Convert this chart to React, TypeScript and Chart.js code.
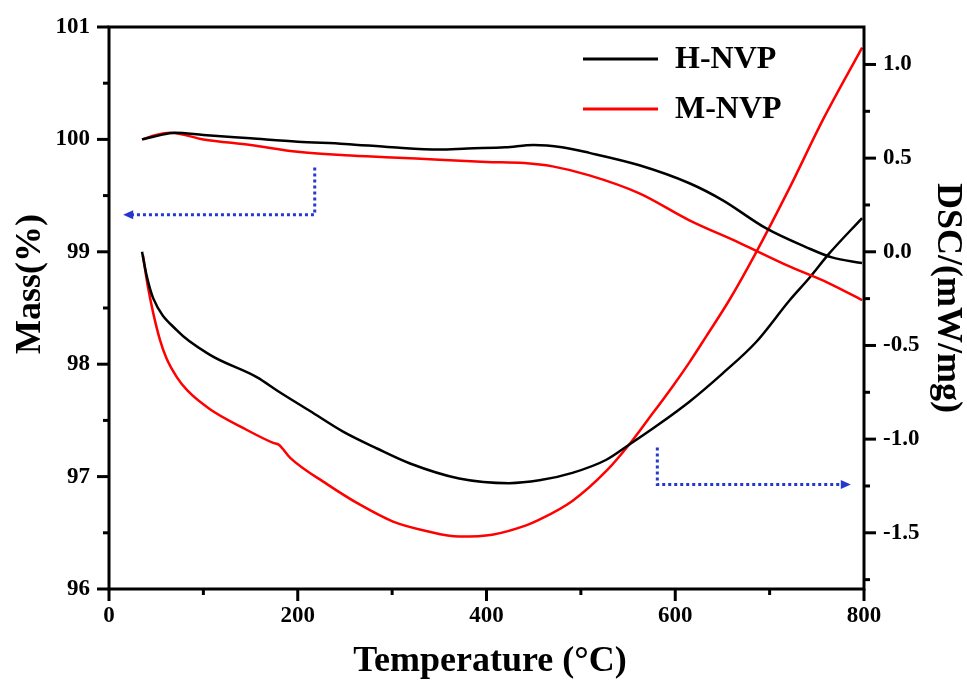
import React, { useEffect, useRef } from 'react';
import { Chart, registerables } from 'chart.js';
Chart.register(...registerables);

const FONT = "'Liberation Serif', 'Times New Roman', serif";

// Axis ticks
const X_TICKS = [0, 200, 400, 600, 800];
const X_MINOR = [100, 300, 500, 700];
const MASS_TICKS = [96, 97, 98, 99, 100, 101];
const MASS_MINOR = [96.5, 97.5, 98.5, 99.5, 100.5];
const DSC_TICKS = [-1.5, -1.0, -0.5, 0.0, 0.5, 1.0];
const DSC_MINOR = [-1.75, -1.25, -0.75, -0.25, 0.25, 0.75];

// Series labels
const SERIES_NAMES = ['H-NVP', 'M-NVP'];

// H-NVP mass (TG)
const H_TG_T = [35, 50, 70, 100, 150, 200, 250, 300, 350, 380, 420, 450, 480, 509, 562, 615, 650, 696, 739, 766, 798];
const H_TG = [100.0, 100.03, 100.06, 100.04, 100.01, 99.98, 99.96, 99.93, 99.91, 99.92, 99.93, 99.95, 99.93, 99.88, 99.77, 99.61, 99.46, 99.21, 99.04, 98.95, 98.9];

// M-NVP mass (TG)
const M_TG_T = [35, 50, 65, 100, 150, 200, 250, 300, 350, 400, 440, 470, 509, 562, 615, 668, 721, 763, 798];
const M_TG = [100.0, 100.04, 100.06, 100.0, 99.95, 99.89, 99.86, 99.84, 99.82, 99.8, 99.79, 99.76, 99.68, 99.52, 99.28, 99.08, 98.87, 98.72, 98.57];

// H-NVP DSC
const H_DSC_T = [35, 40, 47, 72, 107, 157, 178, 213, 248, 284, 319, 371, 424, 456, 491, 527, 551, 580, 615, 650, 686, 721, 742, 763, 798];
const H_DSC = [0.0, -0.13, -0.25, -0.42, -0.55, -0.67, -0.74, -0.85, -0.96, -1.05, -1.13, -1.21, -1.235, -1.22, -1.18, -1.11, -1.03, -0.93, -0.8, -0.65, -0.48, -0.26, -0.14, -0.01, 0.18];

// M-NVP DSC
const M_DSC_T = [36, 41, 47, 54, 61, 72, 83, 107, 142, 174, 180, 192, 231, 266, 301, 336, 371, 406, 442, 456, 491, 527, 551, 572, 597, 615, 633, 657, 686, 721, 756, 798];
const M_DSC = [-0.02, -0.18, -0.33, -0.47, -0.57, -0.67, -0.74, -0.84, -0.94, -1.02, -1.03, -1.1, -1.24, -1.35, -1.44, -1.49, -1.52, -1.51, -1.46, -1.43, -1.33, -1.17, -1.03, -0.89, -0.72, -0.59, -0.45, -0.26, 0.0, 0.34, 0.7, 1.09];

// Annotation arrows (data units)
const TG_ARROW = { t: [218, 218, 15], v: [99.75, 99.33, 99.33] };
const DSC_ARROW = { t: [581, 581, 786], v: [-1.044, -1.242, -1.242] };

const pts = (xs: number[], ys: number[]) => xs.map((x, i) => ({ x, y: ys[i] }));

const decor = {
  id: 'decor',
  afterDraw(chart: any) {
    const { ctx, chartArea, scales } = chart;
    const { left, right, top, bottom } = chartArea;
    const sx = scales.x, sy = scales.y, sy2 = scales.y2;
    ctx.save();
    ctx.strokeStyle = '#000';
    ctx.lineWidth = 3;
    ctx.lineCap = 'butt';
    ctx.strokeRect(left, top, right - left, bottom - top);
    const seg = (x1: number, y1: number, x2: number, y2: number) => {
      ctx.beginPath(); ctx.moveTo(x1, y1); ctx.lineTo(x2, y2); ctx.stroke();
    };
    X_TICKS.forEach(v => { const p = sx.getPixelForValue(v); seg(p, bottom, p, bottom + 12); });
    X_MINOR.forEach(v => { const p = sx.getPixelForValue(v); seg(p, bottom, p, bottom + 6); });
    MASS_TICKS.forEach(v => { const p = sy.getPixelForValue(v); seg(left - 12, p, left, p); });
    MASS_MINOR.forEach(v => { const p = sy.getPixelForValue(v); seg(left - 6, p, left, p); });
    DSC_TICKS.forEach(v => { const p = sy2.getPixelForValue(v); seg(right, p, right + 12, p); });
    DSC_MINOR.forEach(v => { const p = sy2.getPixelForValue(v); seg(right, p, right + 6, p); });

    // arrows
    const drawArrow = (a: { t: number[]; v: number[] }, ys: any) => {
      const P = a.t.map((t, i) => [sx.getPixelForValue(t), ys.getPixelForValue(a.v[i])]);
      ctx.strokeStyle = '#2438d0';
      ctx.fillStyle = '#2438d0';
      ctx.lineWidth = 3;
      ctx.setLineDash([3, 3]);
      const last = P[P.length - 1];
      const prev = P[P.length - 2];
      const dir = Math.sign(last[0] - prev[0]);
      ctx.beginPath();
      ctx.moveTo(P[0][0], P[0][1]);
      ctx.lineTo(P[1][0], P[1][1]);
      ctx.lineTo(last[0] - dir * 8, last[1]);
      ctx.stroke();
      ctx.setLineDash([]);
      ctx.beginPath();
      ctx.moveTo(last[0], last[1]);
      ctx.lineTo(last[0] - dir * 10, last[1] - 4.5);
      ctx.lineTo(last[0] - dir * 10, last[1] + 4.5);
      ctx.closePath();
      ctx.fill();
    };
    drawArrow(TG_ARROW, sy);
    drawArrow(DSC_ARROW, sy2);

    // legend
    const legendColors = ['#000000', '#ff0000'];
    ctx.lineWidth = 3;
    ctx.font = `bold 32px ${FONT}`;
    ctx.textAlign = 'left';
    ctx.textBaseline = 'middle';
    SERIES_NAMES.forEach((name, i) => {
      const yy = 59 + i * 50;
      ctx.strokeStyle = legendColors[i];
      seg(583, yy, 658, yy);
      ctx.fillStyle = '#000';
      ctx.fillText(name, 675, yy + 1);
    });

    // titles
    ctx.fillStyle = '#000';
    ctx.font = `bold 36px ${FONT}`;
    ctx.textAlign = 'center';
    ctx.textBaseline = 'middle';
    ctx.fillText('Temperature (\u00B0C)', 490, 662);
    ctx.save();
    ctx.translate(31, 284);
    ctx.rotate(-Math.PI / 2);
    ctx.fillText('Mass(%)', 0, 0);
    ctx.restore();
    ctx.save();
    ctx.translate(947, 298);
    ctx.rotate(Math.PI / 2);
    ctx.fillText('DSC/(mW/mg)', 0, 0);
    ctx.restore();
    ctx.restore();
  },
};

export default function App() {
  const ref = useRef<HTMLCanvasElement>(null);
  useEffect(() => {
    if (!ref.current) return;
    const tickFont = { family: FONT, size: 23, weight: 'bold' as const };
    const gridOpts = { display: true, drawOnChartArea: false, drawTicks: true, tickLength: 12, color: 'rgba(0,0,0,0)' };
    const line = (label: string, data: any[], color: string, axis: string) => ({
      label, data, borderColor: color, backgroundColor: color, borderWidth: 2.5,
      pointRadius: 0, yAxisID: axis, cubicInterpolationMode: 'monotone' as const, fill: false,
    });
    const chart = new Chart(ref.current, {
      type: 'line',
      data: {
        datasets: [
          line(SERIES_NAMES[0] + ' TG', pts(H_TG_T, H_TG), '#000000', 'y'),
          line(SERIES_NAMES[1] + ' TG', pts(M_TG_T, M_TG), '#ff0000', 'y'),
          line(SERIES_NAMES[0] + ' DSC', pts(H_DSC_T, H_DSC), '#000000', 'y2'),
          line(SERIES_NAMES[1] + ' DSC', pts(M_DSC_T, M_DSC), '#ff0000', 'y2'),
        ],
      },
      options: {
        animation: false,
        responsive: false,
        devicePixelRatio: 1,
        layout: { padding: { top: 27, left: 0, right: 0, bottom: 0 } },
        plugins: { legend: { display: false }, tooltip: { enabled: false } },
        scales: {
          x: {
            type: 'linear', position: 'bottom', min: 0, max: 800,
            afterBuildTicks: (s: any) => { s.ticks = X_TICKS.map(v => ({ value: v })); },
            afterFit: (s: any) => { s.height = 98; },
            ticks: { font: tickFont, color: '#000', padding: 1, maxRotation: 0, autoSkip: false, callback: (v: any) => String(v) },
            grid: gridOpts, border: { display: false },
          },
          y: {
            type: 'linear', position: 'left', min: 96, max: 101,
            afterBuildTicks: (s: any) => { s.ticks = MASS_TICKS.map(v => ({ value: v })); },
            afterFit: (s: any) => { s.width = 109; },
            ticks: { font: tickFont, color: '#000', padding: 7, autoSkip: false, callback: (v: any) => String(v) },
            grid: gridOpts, border: { display: false },
          },
          y2: {
            type: 'linear', position: 'right', min: -1.8, max: 1.2,
            afterBuildTicks: (s: any) => { s.ticks = DSC_TICKS.map(v => ({ value: v })); },
            afterFit: (s: any) => { s.width = 103; },
            ticks: { font: tickFont, color: '#000', padding: 7, autoSkip: false, callback: (v: any) => Number(v).toFixed(1) },
            grid: gridOpts, border: { display: false },
          },
        },
      },
      plugins: [decor],
    });
    return () => chart.destroy();
  }, []);
  return (
    <div style={{ position: 'absolute', left: 0, top: 0, width: 967, height: 687, background: '#fff' }}>
      <canvas ref={ref} width={967} height={687} />
    </div>
  );
}
